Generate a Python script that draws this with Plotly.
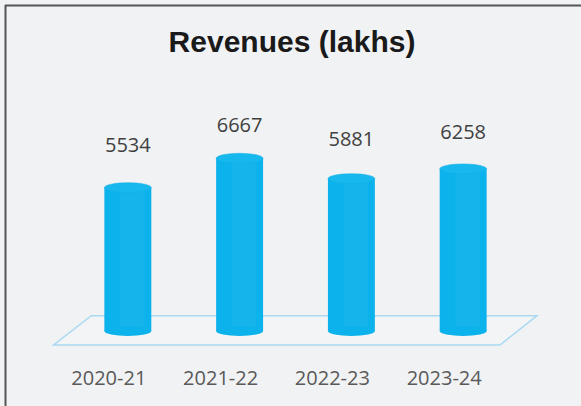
import plotly.graph_objects as go

# ---- data ----
categories = ["2020-21", "2021-22", "2022-23", "2023-24"]
revenues = [5534, 6667, 5881, 6258]
title_text = "Revenues (lakhs)"

# ---- style ----
BG = "#f1f2f4"
BAR = "#0cb2eb"
CAP = "#17b8ee"
FLOOR = "#a9d9f2"
BAR_W = 0.42
CAP_H = 193          # half-height of elliptical caps, in value units

idx = list(range(len(categories)))

fig = go.Figure()

# cylinder bodies
fig.add_trace(go.Bar(
    x=idx, y=revenues, base=0, width=BAR_W,
    marker=dict(color=BAR, line=dict(width=0)),
    hoverinfo="skip", showlegend=False,
))
# subtle highlight band
fig.add_trace(go.Bar(
    x=[i + 0.04 for i in idx], y=revenues, base=0, width=0.22,
    marker=dict(color="rgba(255,255,255,0.04)", line=dict(width=0)),
    hoverinfo="skip", showlegend=False,
))

# value labels (on a secondary axis reproducing the perspective of the label row)
fig.add_trace(go.Scatter(
    x=idx, y=revenues, yaxis="y2", mode="text",
    text=[str(v) for v in revenues], textposition="middle center",
    textfont=dict(family="Open Sans, Lato, sans-serif", size=20, color="#404040"),
    hoverinfo="skip", showlegend=False,
))

shapes = []
n = len(categories)
# floor plane
bl, br, fl, fr = -0.327, (n - 1) + 0.661, -0.664, (n - 1) + 0.329
yb, yf = 591, -541
shapes.append(dict(
    type="path", xref="x", yref="y", layer="below",
    path=f"M {bl},{yb} L {br},{yb} L {fr},{yf} L {fl},{yf} Z",
    line=dict(color=FLOOR, width=1.5), fillcolor="rgba(255,255,255,0.15)",
))
# elliptical caps
for i, v in zip(idx, revenues):
    shapes.append(dict(type="circle", xref="x", yref="y",
                       x0=i - BAR_W / 2, x1=i + BAR_W / 2, y0=-CAP_H, y1=CAP_H,
                       fillcolor=BAR, line=dict(width=0)))
    shapes.append(dict(type="circle", xref="x", yref="y",
                       x0=i - BAR_W / 2, x1=i + BAR_W / 2, y0=v - CAP_H, y1=v + CAP_H,
                       fillcolor=CAP, line=dict(color="#0eaee6", width=0.5)))

# page border (left + top)
L, R, T, B = 44, 34, 60, 50
W, H = 581, 406
pw, ph = W - L - R, H - T - B
def px(xp): return (xp - L) / pw
def py(yp): return (H - B - yp) / ph
shapes.append(dict(type="line", xref="paper", yref="paper",
                   x0=px(5.5), x1=px(5.5), y0=py(5), y1=py(406),
                   line=dict(color="#555555", width=2)))
shapes.append(dict(type="line", xref="paper", yref="paper",
                   x0=px(5), x1=px(581), y0=py(5.5), y1=py(5.5),
                   line=dict(color="#555555", width=2)))

fig.update_layout(
    width=W, height=H,
    margin=dict(l=L, r=R, t=T, b=B),
    paper_bgcolor=BG, plot_bgcolor=BG,
    barmode="overlay",
    title=dict(text=f"<b>{title_text}</b>", x=292 / W, xref="container", xanchor="center",
               y=1 - 41 / H, yref="container", yanchor="middle",
               font=dict(family="Liberation Sans, Arial, sans-serif", size=30, color="#1a1a1a")),
    xaxis=dict(range=[-0.75, 3.75], tickvals=idx, ticktext=categories,
               showgrid=False, zeroline=False, showline=False, ticks="",
               ticklabelshift=-19, ticklabelstandoff=8,
               tickfont=dict(family="Open Sans, Lato, sans-serif", size=20, color="#595959")),
    yaxis=dict(range=[-965, 10463], visible=False, showgrid=False, zeroline=False),
    yaxis2=dict(range=[-6257, 10428], overlaying="y", visible=False,
                showgrid=False, zeroline=False),
    shapes=shapes,
)

fig.write_html(
    "out.html",
    config={"displayModeBar": False},
    post_script="document.body.style.margin='0';document.body.style.overflow='hidden';",
)
